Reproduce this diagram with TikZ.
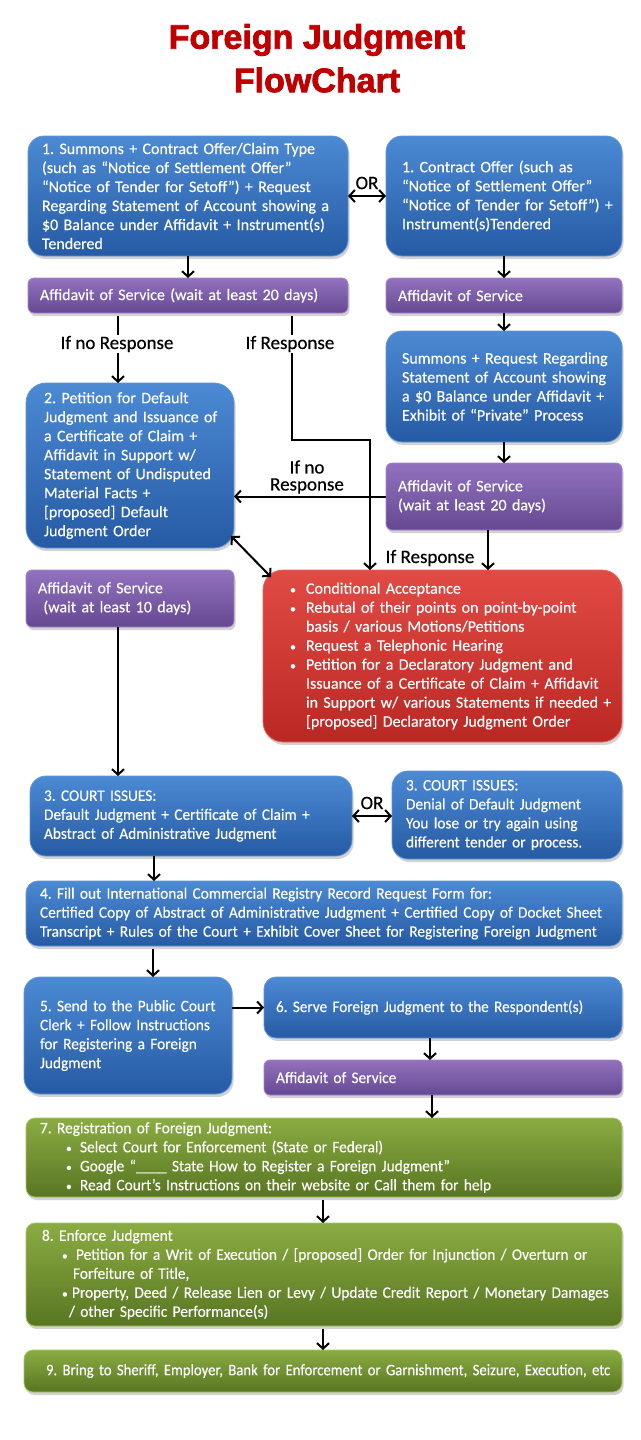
\documentclass[tikz,border=0pt]{standalone}
\usepackage{fontspec}
\setmainfont{Carlito}[FakeBold=0.3]
\newfontfamily\condA{Carlito}[FakeStretch=0.96,FakeBold=0.3]
\newfontfamily\condB{Carlito}[FakeStretch=0.95,FakeBold=0.3]
\newfontfamily\condC{Carlito}[FakeStretch=0.92,FakeBold=0.3]
\newfontfamily\titlefont{Liberation Sans}[BoldFeatures={FakeBold=2.2}]
\usetikzlibrary{arrows.meta,shadows,calc}
\definecolor{blueT}{RGB}{76,138,212}
\definecolor{blueB}{RGB}{38,90,164}
\definecolor{blueL}{RGB}{96,150,215}
\definecolor{purT}{RGB}{146,114,190}
\definecolor{purB}{RGB}{102,72,146}
\definecolor{purL}{RGB}{162,135,204}
\definecolor{redT}{RGB}{226,74,68}
\definecolor{redB}{RGB}{186,40,36}
\definecolor{redL}{RGB}{232,100,95}
\definecolor{grnT}{RGB}{138,172,66}
\definecolor{grnB}{RGB}{88,118,34}
\definecolor{grnL}{RGB}{165,200,95}
\definecolor{titlered}{RGB}{192,0,0}
\frenchspacing
\hyphenpenalty=10000
\exhyphenpenalty=10000
\newcommand\myb{\makebox[16pt][l]{\fontsize{12}{12}\selectfont\textbullet}}
\newcommand\myi{\hspace*{16pt}}
\newcommand\gb[1]{\makebox[#1pt][l]{\fontsize{12}{12}\selectfont\textbullet}}
\begin{document}
\begin{tikzpicture}[x=1pt,y=-1pt]
\tikzset{
  box/.style={rectangle, anchor=north west, inner sep=0pt, outer sep=0pt,
    text=white, align=left, font=\fontsize{16}{19}\selectfont,
    drop shadow={shadow xshift=1.5pt, shadow yshift=-3pt, opacity=0.35},
    line width=0.8pt},
  wh/.style n args={3}{minimum width=#1pt, text width=#1pt, minimum height=#2pt,
    execute at begin node={\leftskip=#3pt\relax\hyphenpenalty=10000\relax}},
  bluebox/.style={box, top color=blueT, bottom color=blueB, draw=blueL, rounded corners=16pt},
  purbox/.style={box, top color=purT, bottom color=purB, draw=purL, rounded corners=6pt},
  redbox/.style={box, top color=redT, bottom color=redB, draw=redL, rounded corners=20pt},
  grnbox/.style={box, top color=grnT, bottom color=grnB, draw=grnL, rounded corners=9pt},
  conn/.style={line width=2pt, black},
  arr/.style={conn, -{Straight Barb[length=5.5pt,width=12pt]}},
  darr/.style={conn, {Straight Barb[length=5.5pt,width=12pt]}-{Straight Barb[length=5.5pt,width=12pt]}},
  lab/.style={font=\fontsize{19}{17}\selectfont, inner sep=1pt, align=center, text=black},
  ttl/.style={font=\titlefont\bfseries\fontsize{34}{34}\selectfont, inner sep=0pt},
}
\fill[white] (0,0) rectangle (640,1440);
\useasboundingbox (0,0) rectangle (640,1440);

% title
\node[ttl, text=titlered] (t1) at (317,40) {Foreign Judgment};
\node[ttl, text=titlered] (t2) at (317,80) {FlowChart};

% top row
\node[bluebox, wh={320}{120}{14}] (b1) at (28,136) {1. Summons + Contract Offer/Claim Type\\
(such as “Notice of Settlement Offer”\\
“Notice of Tender for Setoff”) + Request\\
Regarding Statement of Account showing a\\
\$0 Balance under Affidavit + Instrument(s)\\
Tendered};
\node[bluebox, wh={236}{120}{16}] (b1r) at (386,136) {1. Contract Offer (such as\\
“Notice of Settlement Offer”\\
“Notice of Tender for Setoff”) +\\
Instrument(s)Tendered};
\node[lab] (or1) at (367,183) {OR};

\node[purbox, wh={320}{35}{12}] (aff1) at (28,278) {Affidavit of Service (wait at least 20 days)};
\node[purbox, wh={236}{35}{12}] (aff1r) at (386,278) {Affidavit of Service};
\node[bluebox, wh={236}{111}{16}] (sum) at (386,331) {Summons + Request Regarding\\
Statement of Account showing\\
a \$0 Balance under Affidavit +\\
Exhibit of “Private” Process};
\node[purbox, wh={236}{67}{12}] (aff2r) at (386,463) {Affidavit of Service\\
(wait at least 20 days)};

\node[bluebox, rounded corners=20pt, wh={208}{165}{18}] (b2) at (26,383) {2. Petition for Default\\
Judgment and Issuance of\\
a Certificate of Claim +\\
Affidavit in Support w/\\
Statement of Undisputed\\
Material Facts +\\
{[proposed]} Default\\
Judgment Order};
\node[purbox, wh={208}{57}{12}] (aff3) at (26,570) {Affidavit of Service\\
\ (wait at least 10 days)};
\node[redbox, wh={359}{172}{27}] (red) at (263,570) {\myb Conditional Acceptance\\
\myb Rebutal of their points on point-by-point\\
\myi basis / various Motions/Petitions\\
\myb Request a Telephonic Hearing\\
\myb Petition for a Declaratory Judgment and\\
\myi Issuance of a Certificate of Claim + Affidavit\\
\myi in Support w/ various Statements if needed +\\
\myi {[proposed]} Declaratory Judgment Order};

\node[lab] (ifno1) at (117,344) {If no Response};
\node[lab] (ifr1) at (290,344) {If Response};
\node[lab] (ifno2) at (307,477) {If no\\Response};
\node[lab] (ifr2) at (430,558) {If Response};

% court issues
\node[bluebox, font=\condA\fontsize{16}{19}\selectfont, wh={322}{80}{14}] (ci) at (30,776) {3. COURT ISSUES:\\
Default Judgment + Certificate of Claim +\\
Abstract of Administrative Judgment};
\node[bluebox, font=\condA\fontsize{16}{19}\selectfont, wh={230}{88}{14}] (cir) at (392,771) {3. COURT ISSUES:\\
Denial of Default Judgment\\
You lose or try again using\\
different tender or process.};
\node[lab] (or2) at (372,803) {OR};

\node[bluebox, font=\condA\fontsize{16}{19}\selectfont, rounded corners=12pt, wh={596}{65}{14}] (b4) at (26,881) {4. Fill out International Commercial Registry Record Request Form for:\\
Certified Copy of Abstract of Administrative Judgment + Certified Copy of Docket Sheet\\
Transcript + Rules of the Court + Exhibit Cover Sheet for Registering Foreign Judgment};

\node[bluebox, font=\condA\fontsize{16}{19}\selectfont, wh={208}{117}{16}] (b5) at (24,977) {5. Send to the Public Court\\
Clerk + Follow Instructions\\
for Registering a Foreign\\
Judgment};
\node[bluebox, font=\condB\fontsize{16}{19}\selectfont, rounded corners=12pt, wh={358}{61}{12}] (b6) at (264,977) {6. Serve Foreign Judgment to the Respondent(s)};
\node[purbox, font=\condA\fontsize{16}{19}\selectfont, wh={358}{35}{12}] (aff4) at (264,1060) {Affidavit of Service};

\node[grnbox, font=\condA\fontsize{16}{19}\selectfont, wh={596}{79}{14}] (g7) at (26,1118) {7. Registration of Foreign Judgment:\\
\hspace*{26pt}\gb{14}Select Court for Enforcement (State or Federal)\\
\hspace*{26pt}\gb{14}Google “\_\_\_\_ State How to Register a Foreign Judgment”\\
\hspace*{26pt}\gb{14}Read Court’s Instructions on their website or Call them for help};
\node[grnbox, font=\condA\fontsize{16}{19}\selectfont, wh={596}{103}{16}] (g8) at (26,1223) {8. Enforce Judgment\\
\hspace*{20pt}\gb{14}Petition for a Writ of Execution / [proposed] Order for Injunction / Overturn or\\
\hspace*{31pt}Forfeiture of Title,\\
\hspace*{20pt}\gb{10}Property, Deed / Release Lien or Levy / Update Credit Report / Monetary Damages\\
\hspace*{27pt}/ other Specific Performance(s)};
\node[grnbox, font=\condC\fontsize{16}{19}\selectfont, wh={598}{42}{22}] (g9) at (24,1350) {9. Bring to Sheriff, Employer, Bank for Enforcement or Garnishment, Seizure, Execution, etc};

% connectors
\draw[darr] (b1.east) -- (b1r.west);
\draw[arr] (b1.south) -- (aff1.north);
\draw[arr] (b1r.south) -- (aff1r.north);
\draw[arr] (aff1r.south) -- (sum.north);
\draw[arr] (sum.south) -- (aff2r.north);
\draw[conn] (118,0 |- aff1.south) ++(0,3) -- (118,0 |- ifno1.north);
\draw[arr] (118,0 |- ifno1.south) -- (118,0 |- b2.north);
\draw[conn] (292,0 |- aff1.south) ++(0,3) -- (292,0 |- ifr1.north);
\draw[arr] (292,0 |- ifr1.south) -- (292,440) -- (370,440) -- (370,0 |- red.north);
\draw[arr] (488,0 |- aff2r.south) -- (488,0 |- red.north);
\draw[arr] (aff2r.west) -- (aff2r.west -| b2.east);
\draw[darr] ($(b2.south east)+(-3,-12)$) -- ($(red.north west)+(8,7)$);
\draw[arr] (118,0 |- aff3.south) -- (118,0 |- ci.north);
\draw[darr] (ci.east) -- (ci.east -| cir.west);
\draw[arr] (154,0 |- ci.south) -- (154,0 |- b4.north);
\draw[arr] (153,0 |- b4.south) ++(0,3) -- (153,0 |- b5.north);
\draw[arr] (b6.west -| b5.east) -- (b6.west);
\draw[arr] (430,0 |- b6.south) -- (430,0 |- aff4.north);
\draw[arr] (432,0 |- aff4.south) -- (432,0 |- g7.north);
\draw[arr] (323,0 |- g7.south) ++(0,3) -- (323,0 |- g8.north);
\draw[arr] (323,0 |- g8.south) ++(0,3) -- (323,0 |- g9.north);
\end{tikzpicture}
\end{document}
